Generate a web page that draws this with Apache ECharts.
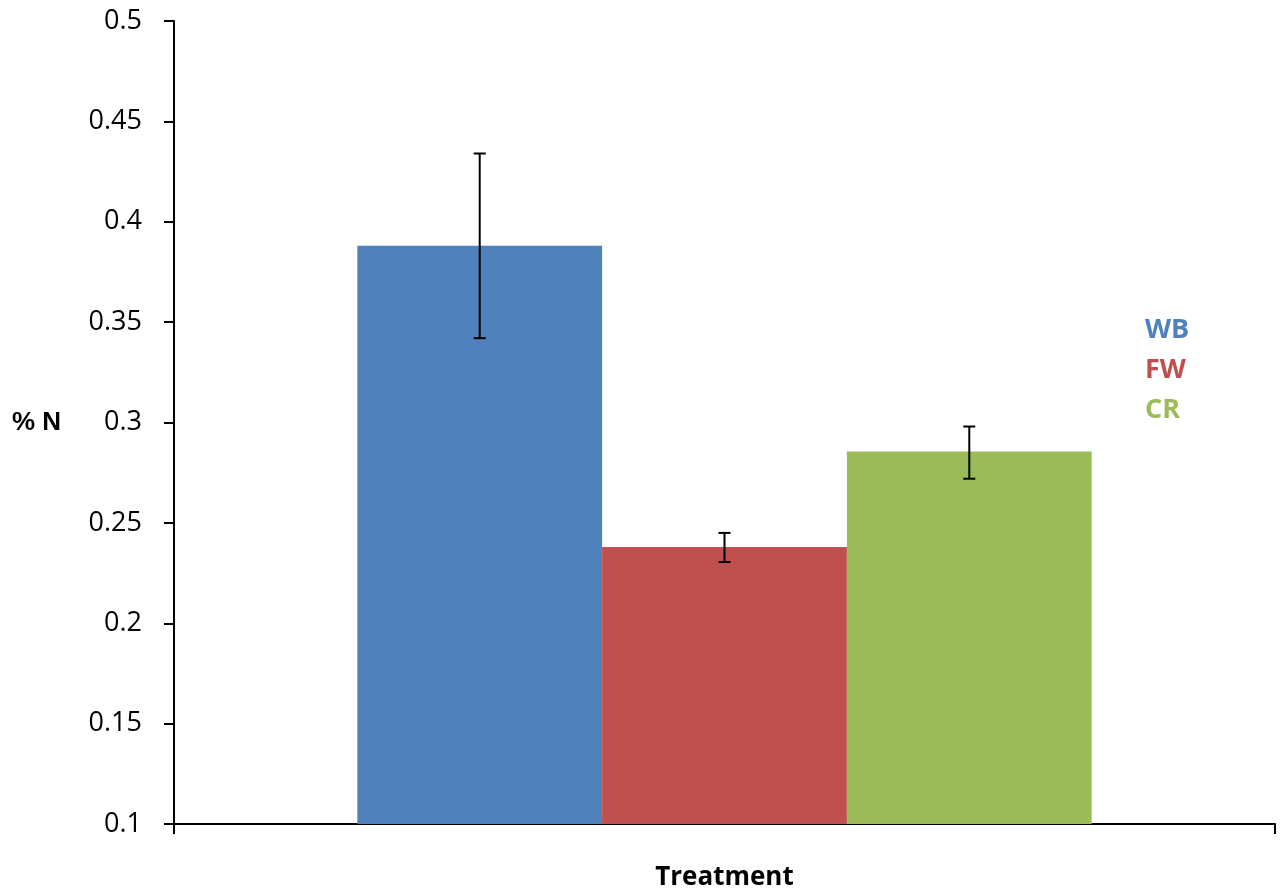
<!DOCTYPE html>
<html>
<head>
<meta charset="utf-8">
<title>% N by treatment</title>
<script src="https://cdn.jsdelivr.net/npm/echarts@6/dist/echarts.min.js"></script>
<style>
  html, body { margin: 0; padding: 0; background: #fff; }
  #main { width: 1284px; height: 895px; }
</style>
</head>
<body>
<div id="main"></div>
<script>
// data
const categories = ['Treatment'];
const seriesNames = ['WB', 'FW', 'CR'];
const seriesColors = ['#4F81BD', '#C0504D', '#9BBB59'];
const means = [0.388, 0.238, 0.2855];
const errLow = [0.342, 0.2305, 0.272];
const errHigh = [0.434, 0.245, 0.298];

const barCategoryGap = 0.333;

const chart = echarts.init(document.getElementById('main'));

// one bar series per treatment, all in the same category
const barSeries = seriesNames.map(function (name, i) {
    return {
        name: name,
        type: 'bar',
        barGap: 0,
        barCategoryGap: (barCategoryGap * 100) + '%',
        itemStyle: { color: seriesColors[i] },
        data: [means[i]],
        z: 2
    };
});

// error bars drawn through the axis scales
const errorData = seriesNames.map(function (name, i) {
    return [0, errLow[i], errHigh[i], i];
});

const errorSeries = {
    type: 'custom',
    name: 'error',
    z: 5,
    silent: true,
    data: errorData,
    renderItem: function (params, api) {
        const idx = api.value(3);
        const catW = api.size([1, 0])[0];
        const n = seriesNames.length;
        const bw = catW * (1 - barCategoryGap) / n;
        const lo = api.coord([api.value(0), api.value(1)]);
        const hi = api.coord([api.value(0), api.value(2)]);
        const x = lo[0] - (n / 2) * bw + (idx + 0.5) * bw;
        const cap = 6;
        const style = { stroke: '#000', lineWidth: 2 };
        return {
            type: 'group',
            children: [
                { type: 'line', shape: { x1: x, y1: hi[1], x2: x, y2: lo[1] }, style: style },
                { type: 'line', shape: { x1: x - cap, y1: hi[1], x2: x + cap, y2: hi[1] }, style: style },
                { type: 'line', shape: { x1: x - cap, y1: lo[1], x2: x + cap, y2: lo[1] }, style: style }
            ]
        };
    }
};

const option = {
    animation: false,
    backgroundColor: '#fff',
    grid: { left: 174, right: 9, top: 21, bottom: 71, containLabel: false, outerBoundsMode: 'none' },
    legend: {
        orient: 'vertical',
        left: 1135,
        top: 310,
        icon: 'none',
        itemWidth: 0,
        itemGap: 10,
        selectedMode: false,
        data: seriesNames.map(function (name, i) {
            return { name: name, textStyle: { color: seriesColors[i] } };
        }),
        textStyle: {
            fontFamily: 'Open Sans',
            fontWeight: 'bold',
            fontSize: 27,
            lineHeight: 30
        }
    },
    xAxis: {
        type: 'category',
        data: categories,
        name: 'Treatment',
        nameLocation: 'middle',
        nameGap: 41,
        nameTextStyle: {
            fontFamily: 'Open Sans',
            fontWeight: 'bold',
            fontSize: 26,
            color: '#000'
        },
        axisLine: { lineStyle: { color: '#000', width: 2 } },
        axisTick: { show: true, length: 10, lineStyle: { color: '#000', width: 2 } },
        axisLabel: { show: false },
        splitLine: { show: false }
    },
    yAxis: {
        type: 'value',
        min: 0.1,
        max: 0.5,
        interval: 0.05,
        name: '% N',
        nameLocation: 'middle',
        nameRotate: 0,
        nameGap: 113,
        nameTextStyle: {
            fontFamily: 'Liberation Sans',
            fontWeight: 'bold',
            fontSize: 26,
            color: '#000'
        },
        axisLine: { show: true, lineStyle: { color: '#000', width: 2 } },
        axisTick: { show: true, length: 10, lineStyle: { color: '#000', width: 2 } },
        axisLabel: {
            margin: 32,
            fontFamily: 'Open Sans',
            fontSize: 27,
            color: '#000',
            formatter: function (v) { return String(+v.toFixed(2)); }
        },
        splitLine: { show: false }
    },
    series: barSeries.concat([errorSeries])
};

chart.setOption(option);
</script>
</body>
</html>
